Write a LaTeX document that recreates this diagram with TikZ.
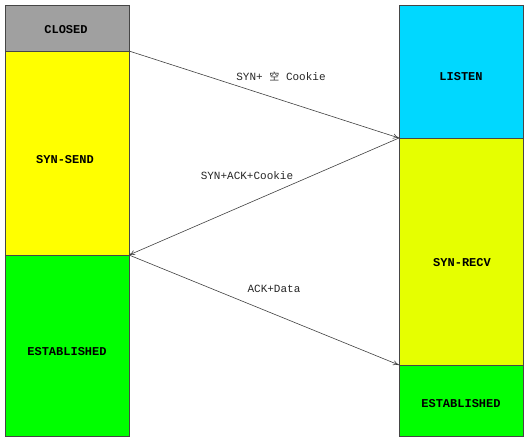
\documentclass[tikz,border=0pt]{standalone}
\usepackage{fontspec}
\setmonofont{Liberation Mono}
\newfontfamily\cjk{Noto Sans CJK SC}
\usetikzlibrary{arrows.meta}
\definecolor{cgray}{RGB}{160,160,160}
\definecolor{cyel}{RGB}{255,255,0}
\definecolor{cyel2}{RGB}{230,255,0}
\definecolor{ccyan}{RGB}{0,216,255}
\definecolor{cgreen}{RGB}{0,255,0}
\definecolor{cedge}{RGB}{70,70,70}
\begin{document}
\begin{tikzpicture}[x=1pt,y=-1pt,
  statebox/.style={draw=cedge,line width=0.8pt,anchor=north west,inner sep=0pt,outer sep=0pt,
    minimum width=124pt},
  statetext/.style={font=\ttfamily\bfseries\fontsize{12}{12}\selectfont,inner sep=0pt},
  msg/.style={draw=black!75,line width=0.6pt,-{To[length=6pt,width=5pt]}},
  lbl/.style={font=\ttfamily\fontsize{11}{11}\selectfont,text=black!85,inner sep=0pt}]
\useasboundingbox (0,0) rectangle (530,441);
\node[statebox,fill=cgray,minimum height=46pt] (closed) at (5,5) {};
\node[statebox,fill=cyel,minimum height=204pt] (synsend) at (5,51) {};
\node[statebox,fill=cgreen,minimum height=181pt] (estl) at (5,255) {};
\node[statebox,fill=ccyan,minimum height=133pt] (listen) at (399,5) {};
\node[statebox,fill=cyel2,minimum height=227pt] (synrecv) at (399,138) {};
\node[statebox,fill=cgreen,minimum height=71pt] (estr) at (399,365) {};
\node[statetext] (tclosed) at (66,30) {CLOSED};
\node[statetext] (tsynsend) at (65,160) {SYN-SEND};
\node[statetext] (testl) at (67,352) {ESTABLISHED};
\node[statetext] (tlisten) at (461,77) {LISTEN};
\node[statetext] (tsynrecv) at (462,263) {SYN-RECV};
\node[statetext] (testr) at (461,404) {ESTABLISHED};
\draw[msg] (closed.south east) -- (listen.south west);
\draw[msg] (listen.south west) -- (synsend.south east);
\draw[msg] (synsend.south east) -- (estr.north west);
\node[lbl] (l1) at (281,77) {SYN+ {\cjk\fontsize{10}{10}\selectfont 空} Cookie};
\node[lbl] (l2) at (247,176) {SYN+ACK+Cookie};
\node[lbl] (l3) at (274,289) {ACK+Data};
\end{tikzpicture}
\end{document}
